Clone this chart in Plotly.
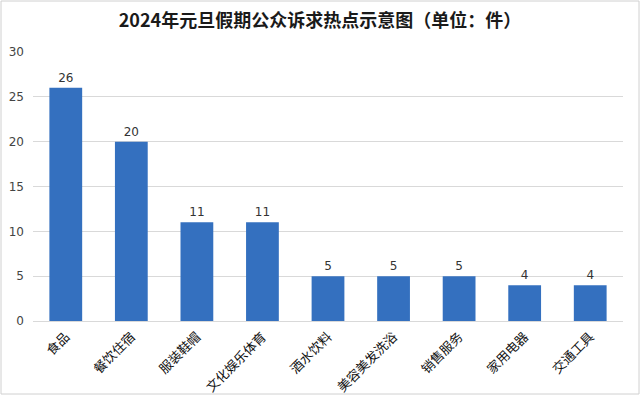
import plotly.graph_objects as go

categories = ["食品", "餐饮住宿", "服装鞋帽", "文化娱乐体育", "酒水饮料", "美容美发洗浴", "销售服务", "家用电器", "交通工具"]
values = [26, 20, 11, 11, 5, 5, 5, 4, 4]
y_ticks = [0, 5, 10, 15, 20, 25, 30]

W, H = 640, 396
L, R, T, B = 33, 17, 52, 75
pw, ph = W - L - R, H - T - B

fig = go.Figure(go.Bar(
    x=categories, y=values, width=0.5,
    marker=dict(color="#3470bf", line=dict(width=0)),
    text=[str(v) for v in values], textposition="outside",
    textfont=dict(size=12, color="#333333", family="DejaVu Sans"),
    cliponaxis=False,
))

fig.update_layout(
    width=W, height=H,
    margin=dict(l=L, r=R, t=T, b=B, autoexpand=False),
    paper_bgcolor="white", plot_bgcolor="white",
    title=dict(text="<b>2024年元旦假期公众诉求热点示意图（单位：件）</b>",
               x=0.5, xanchor="center", y=1 - 21 / H, yanchor="middle",
               font=dict(size=18, color="#1a1a1a", family="Noto Sans CJK SC")),
    font=dict(family="Noto Sans CJK SC", color="#333333"),
    showlegend=False,
    bargap=0.5,
    uniformtext=dict(mode="show", minsize=12),
)
fig.update_yaxes(range=[0, 30], tickvals=y_ticks, showgrid=True, gridcolor="#d9d9d9",
                 gridwidth=1, zeroline=False, showline=False, ticks="", automargin=False,
                 tickfont=dict(size=12, family="DejaVu Sans", color="#444444"),
                 ticklabelstandoff=8)
fig.update_xaxes(tickangle=-45, showline=True, linecolor="#d9d9d9", ticks="", automargin=False,
                 tickfont=dict(size=13, family="Noto Sans CJK SC", color="#111111"),
                 ticklabelstandoff=2)

fig.add_shape(type="rect", xref="paper", yref="paper",
              x0=-(L - 1) / pw, x1=1 + (R - 1) / pw,
              y0=-(B - 2) / ph, y1=1 + (T - 1) / ph,
              line=dict(color="#d0d0d0", width=1), layer="below")

fig.write_html("out.html", config={"displayModeBar": False},
               post_script="document.body.style.margin='0';")
